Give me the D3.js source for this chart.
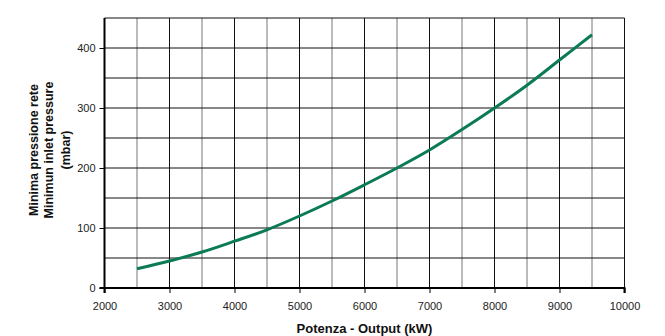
<!DOCTYPE html>
<html>
<head>
<meta charset="utf-8">
<script src="https://cdn.jsdelivr.net/npm/d3@7"></script>
<style>
  body { margin: 0; background: #fff; }
  text { font-family: "Liberation Sans", Arial, sans-serif; }
</style>
</head>
<body>
<svg id="chart" width="665" height="336"></svg>
<script>
// curve values
var output = [2500, 3000, 3500, 4000, 4500, 5000, 5500, 6000, 6500, 7000, 7500, 8000, 8500, 9000, 9500]
var pressure = [32, 45, 60, 78, 97, 120, 145, 172, 200, 230, 264, 300, 338, 380, 422]
var xTicks = [2000, 3000, 4000, 5000, 6000, 7000, 8000, 9000, 10000]
var yTicks = [0, 100, 200, 300, 400]
var yLabel = ["Minima pressione rete", "Minimun inlet pressure", "(mbar)"]
var xLabel = "Potenza - Output (kW)"

var m = {left: 104.5, right: 624.5, top: 18, bottom: 288}
var svg = d3.select("#chart")

var x = d3.scaleLinear().domain([2000, 10000]).range([m.left, m.right])
var y = d3.scaleLinear().domain([0, 450]).range([m.bottom, m.top])

var g = svg.append("g")

// vertical grid, every 500 (half-steps grey)
d3.range(2500, 10000, 500).forEach(v => {
  g.append("line")
    .attr("x1", x(v)).attr("x2", x(v))
    .attr("y1", m.top).attr("y2", m.bottom)
    .attr("stroke", v % 1000 ? "#777" : "#111")
    .attr("stroke-width", 1)
})
// horizontal grid, every 50
d3.range(50, 451, 50).forEach(v => {
  g.append("line")
    .attr("x1", m.left).attr("x2", m.right)
    .attr("y1", y(v)).attr("y2", y(v))
    .attr("stroke", "#111")
    .attr("stroke-width", 1)
})
// right border
g.append("line")
  .attr("x1", m.right).attr("x2", m.right)
  .attr("y1", m.top).attr("y2", m.bottom)
  .attr("stroke", "#111")

// axes
var xAxis = svg.append("g")
  .attr("transform", "translate(0," + m.bottom + ")")
  .call(d3.axisBottom(x).tickValues(xTicks).tickSize(5).tickPadding(9).tickFormat(d3.format("d")))
var yAxis = svg.append("g")
  .attr("transform", "translate(" + m.left + ",0)")
  .call(d3.axisLeft(y).tickValues(yTicks).tickSize(5).tickPadding(4))

;[xAxis, yAxis].forEach(a => {
  a.select(".domain").attr("stroke", "#000").attr("stroke-width", 2)
  a.selectAll(".tick line").attr("stroke", "#000").attr("stroke-width", 1)
  a.selectAll(".tick text").attr("fill", "#222").style("font-size", "11px")
    .style("font-family", "'Liberation Sans', Arial, sans-serif")
})
yAxis.select(".domain").attr("d", "M-5," + m.bottom + "H0V" + m.top)
xAxis.select(".domain").attr("d", "M" + m.left + ",5V0H" + m.right + "V5")

// curve
var line = d3.line()
  .x((d, i) => x(output[i]))
  .y(d => y(d))
  .curve(d3.curveMonotoneX)
svg.append("path")
  .datum(pressure)
  .attr("d", line)
  .attr("fill", "none")
  .attr("stroke", "#0b7a56")
  .attr("stroke-width", 3)

// labels
svg.append("text")
  .attr("x", (m.left + m.right) / 2)
  .attr("y", 333)
  .attr("text-anchor", "middle")
  .style("font-size", "13px")
  .style("font-weight", "bold")
  .attr("fill", "#111")
  .text(xLabel)

var yl = svg.append("text")
  .attr("transform", "translate(37.5,150) rotate(-90)")
  .attr("text-anchor", "middle")
  .style("font-size", "12.5px")
  .style("font-weight", "bold")
  .attr("fill", "#111")
var lineGap = [0, 15.5, 17]
yLabel.forEach((t, i) => {
  yl.append("tspan").attr("x", 0).attr("dy", lineGap[i]).text(t)
})
</script>
</body>
</html>
